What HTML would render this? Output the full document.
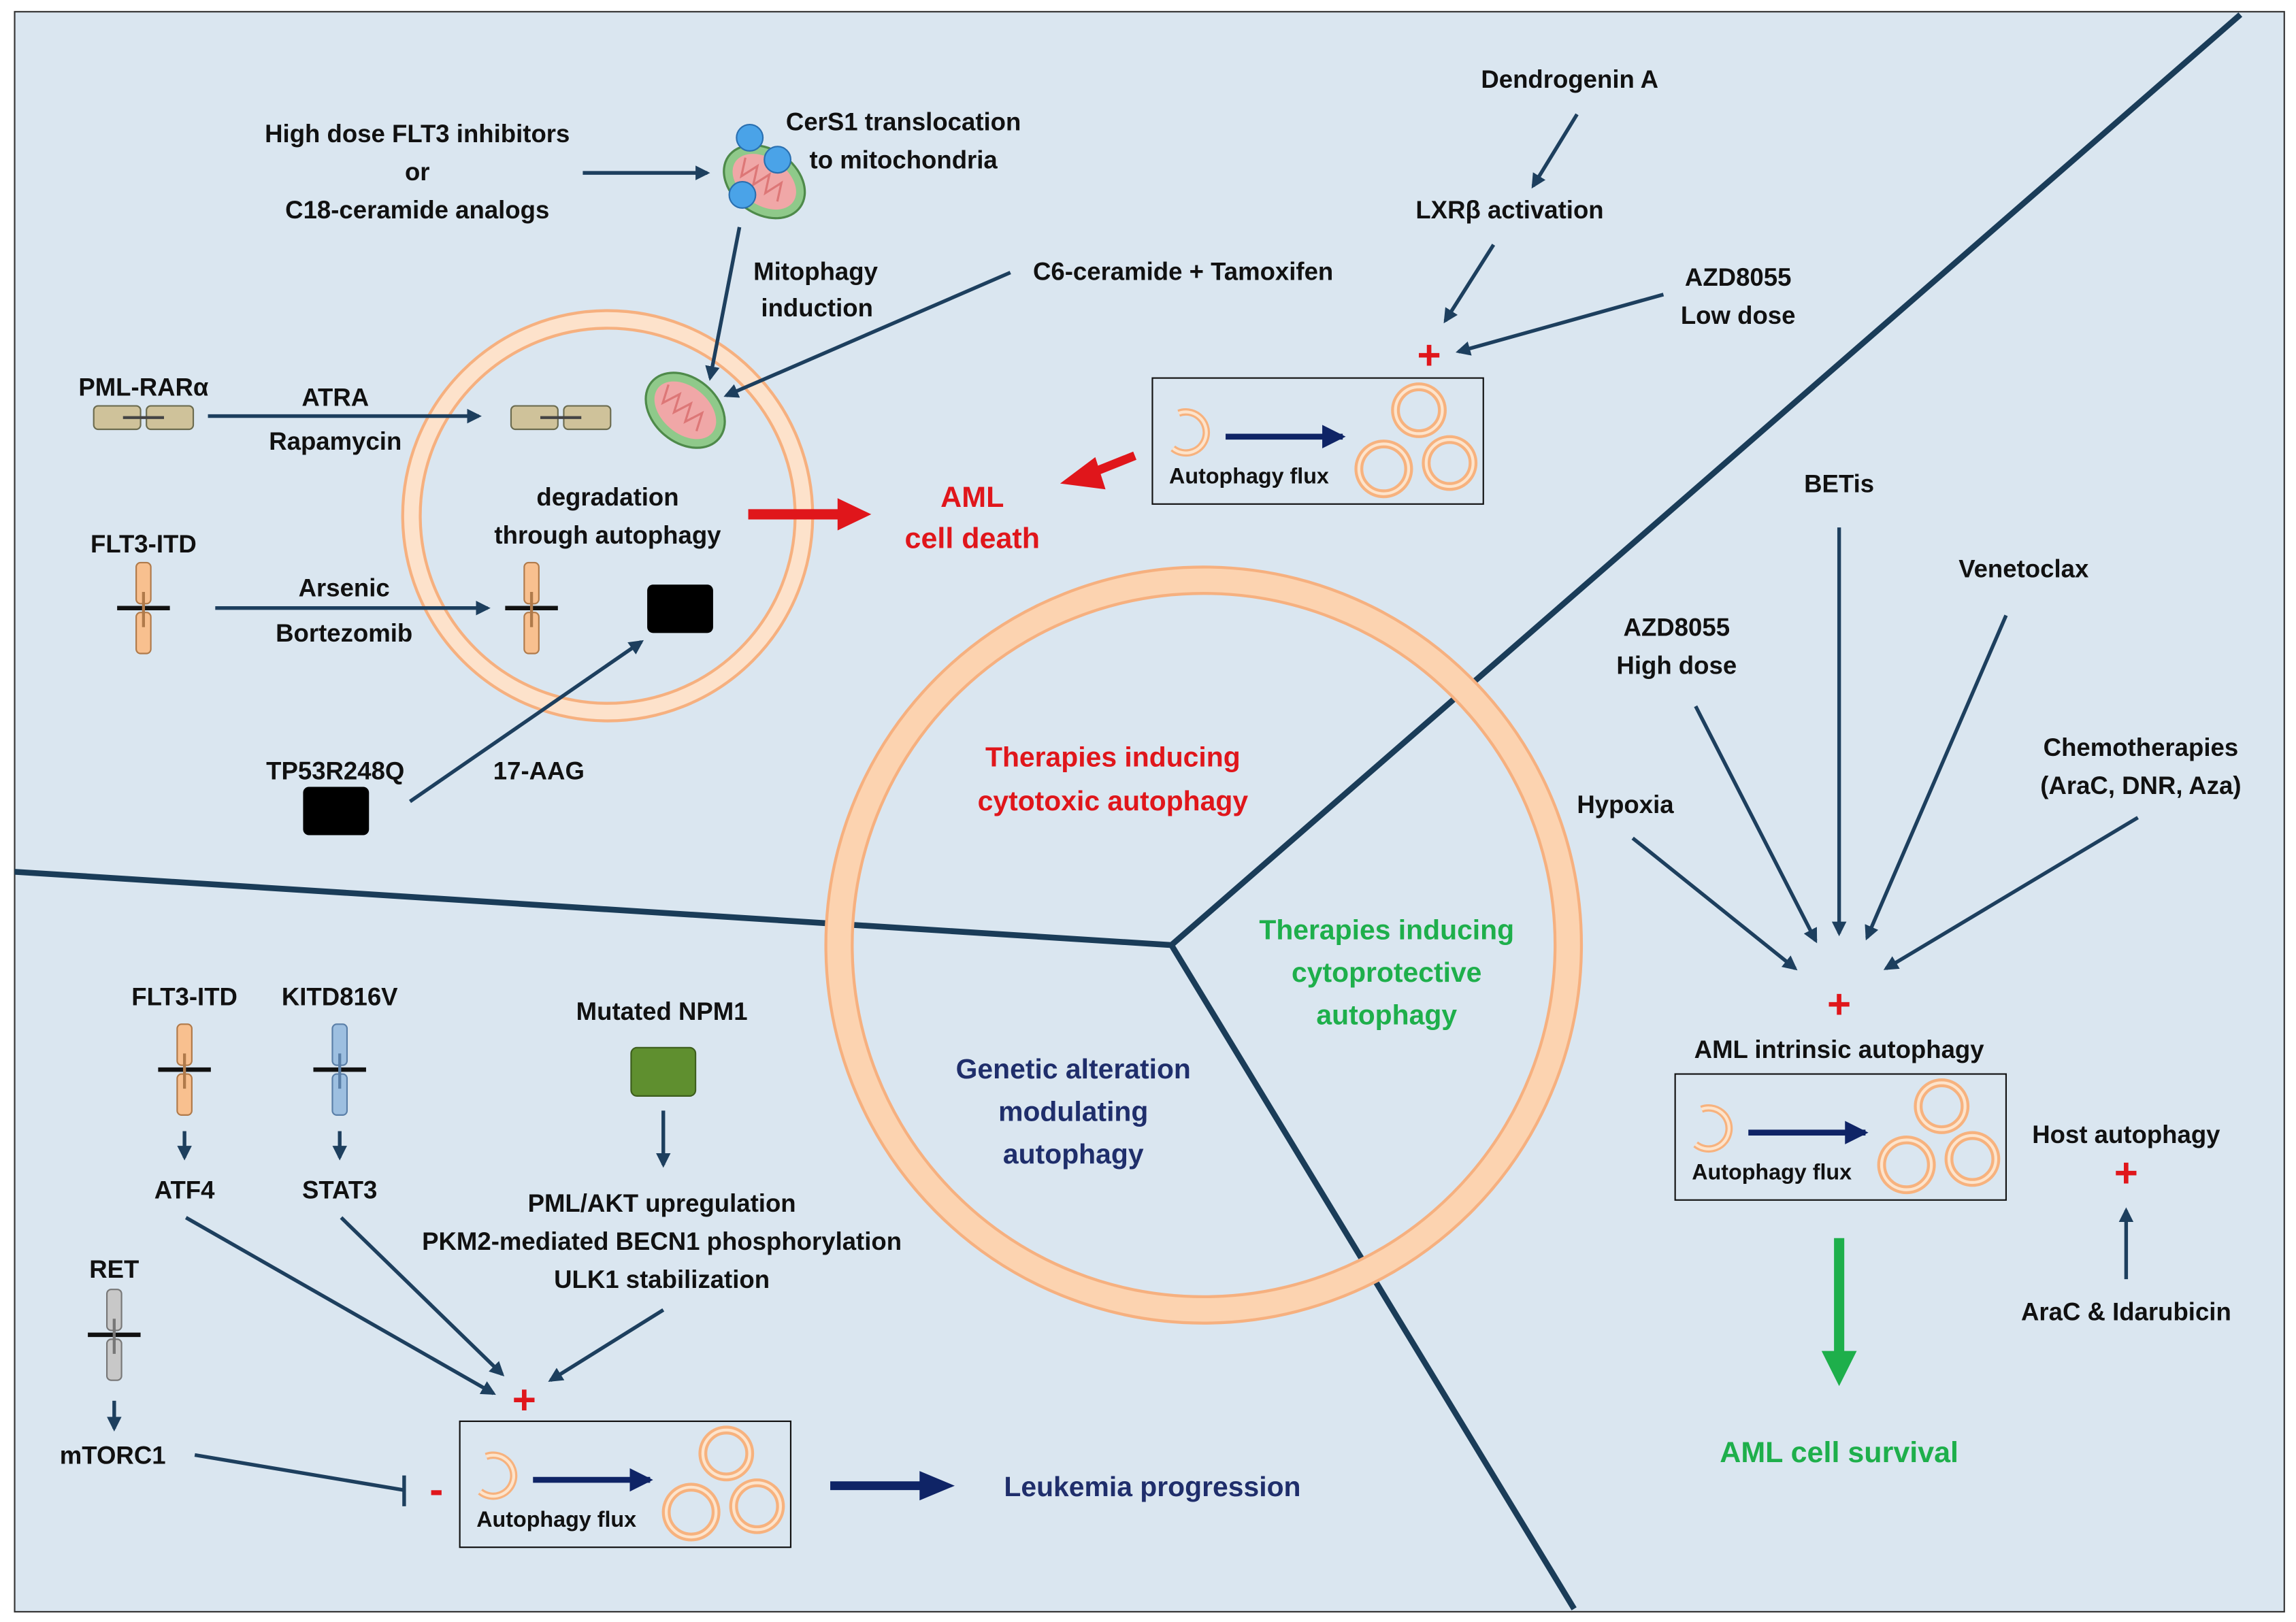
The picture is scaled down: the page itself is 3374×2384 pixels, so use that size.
<!DOCTYPE html>
<html><head><meta charset="utf-8"><style>
html,body{margin:0;padding:0;background:#fff}
svg{display:block}
text{font-family:"Liberation Sans",sans-serif;font-weight:bold;font-size:17px;fill:#111}
.r{fill:#e0161b}.g{fill:#1eaf4b}.b{fill:#1f2e6b}
.s15{font-size:15px}.s19{font-size:19px}.s20{font-size:20px}.s26{font-size:28px}
</style></head><body>
<svg width="3374" height="2384" viewBox="0 0 1568 1107" preserveAspectRatio="none" xmlns="http://www.w3.org/2000/svg">
<defs>
<marker id="a" markerWidth="10" markerHeight="10" refX="8" refY="5" orient="auto" markerUnits="userSpaceOnUse"><path d="M0,0 L10,5 L0,10 z" fill="#1d3f5e"/></marker>
<marker id="ab" markerWidth="16" markerHeight="16" refX="14" refY="8" orient="auto" markerUnits="userSpaceOnUse"><path d="M0,0 L16,8 L0,16 z" fill="#0f2466"/></marker>
<g id="flux">
<path d="M18,24 a14,14 0 1 1 -4,24" fill="none" stroke="#f7b27e" stroke-width="5"/>
<path d="M18,24 a14,14 0 1 1 -4,24" fill="none" stroke="#fde4cc" stroke-width="2"/>
<line x1="50" y1="40" x2="130" y2="40" stroke="#0f2466" stroke-width="4" marker-end="url(#ab)"/>
<g fill="none" stroke="#f7b27e" stroke-width="6"><circle cx="182" cy="22" r="16"/><circle cx="158" cy="62" r="17"/><circle cx="203" cy="58" r="16"/></g>
<g fill="none" stroke="#fde4cc" stroke-width="2"><circle cx="182" cy="22" r="16"/><circle cx="158" cy="62" r="17"/><circle cx="203" cy="58" r="16"/></g>
</g>
<g id="mito">
<ellipse cx="0" cy="0" rx="30" ry="22" fill="#8fc98a" stroke="#4e8a4a" stroke-width="1.5"/>
<ellipse cx="0" cy="0" rx="24" ry="16" fill="#f0a7a7"/>
<path d="M-20,-6 l5,12 l5,-12 l5,12 l5,-12 l5,12 l5,-12 l5,12" fill="none" stroke="#d77" stroke-width="1.5"/>
</g>
<g id="rtk">
<rect x="-5" y="0" width="10" height="28" rx="3" fill="#f8c08f" stroke="#b07a4a"/>
<rect x="-5" y="34" width="10" height="28" rx="3" fill="#f8c08f" stroke="#b07a4a"/>
<line x1="-18" y1="31" x2="18" y2="31" stroke="#111" stroke-width="3"/>
<line x1="0" y1="20" x2="0" y2="44" stroke="#b07a4a" stroke-width="2"/>
</g>
<g id="pml">
<rect x="0" y="0" width="32" height="16" rx="3" fill="#cfc29a" stroke="#6b6b4f"/>
<rect x="36" y="0" width="32" height="16" rx="3" fill="#cfc29a" stroke="#6b6b4f"/>
<line x1="20" y1="8" x2="48" y2="8" stroke="#444" stroke-width="2"/>
</g>
</defs>
<rect x="0" y="0" width="1568" height="1107" fill="#fff"/>
<rect x="10" y="8" width="1550" height="1092" fill="#dae6f0" stroke="#333" stroke-width="1"/>
<g stroke="#1a3c58" stroke-width="4" fill="none">
<line x1="1530" y1="10" x2="800" y2="645"/>
<line x1="10" y1="595" x2="800" y2="645"/>
<line x1="800" y1="645" x2="1075" y2="1098"/>
</g>
<circle cx="822" cy="645" r="249" fill="none" stroke="#f6b07f" stroke-width="20"/>
<circle cx="822" cy="645" r="249" fill="none" stroke="#fcd3b0" stroke-width="16"/>
<circle cx="415" cy="352" r="134" fill="none" stroke="#f6b07f" stroke-width="14"/>
<circle cx="415" cy="352" r="134" fill="none" stroke="#fde2cb" stroke-width="10"/>

<text x="285" y="97" text-anchor="middle">High dose FLT3 inhibitors</text>
<text x="285" y="123" text-anchor="middle">or</text>
<text x="285" y="149" text-anchor="middle">C18-ceramide analogs</text>
<line x1="398" y1="118" x2="483" y2="118" stroke="#1d3f5e" stroke-width="2.5" marker-end="url(#a)"/>
<use href="#mito" transform="translate(522,124) rotate(35)"/>
<circle cx="512" cy="94" r="9" fill="#4aa3e8" stroke="#2a6fb0"/>
<circle cx="531" cy="109" r="9" fill="#4aa3e8" stroke="#2a6fb0"/>
<circle cx="507" cy="133" r="9" fill="#4aa3e8" stroke="#2a6fb0"/>
<text x="617" y="89" text-anchor="middle">CerS1 translocation</text>
<text x="617" y="115" text-anchor="middle">to mitochondria</text>
<line x1="505" y1="155" x2="485" y2="258" stroke="#1d3f5e" stroke-width="2.5" marker-end="url(#a)"/>
<text x="557" y="191" text-anchor="middle">Mitophagy</text>
<text x="558" y="216" text-anchor="middle">induction</text>
<text x="808" y="191" text-anchor="middle">C6-ceramide + Tamoxifen</text>
<line x1="690" y1="186" x2="496" y2="270" stroke="#1d3f5e" stroke-width="2.5" marker-end="url(#a)"/>
<use href="#mito" transform="translate(468,280) rotate(40)"/>
<text x="98" y="270" text-anchor="middle">PML-RARα</text>
<use href="#pml" x="64" y="277"/>
<text x="229" y="277" text-anchor="middle">ATRA</text>
<text x="229" y="307" text-anchor="middle">Rapamycin</text>
<line x1="142" y1="284" x2="327" y2="284" stroke="#1d3f5e" stroke-width="2.5" marker-end="url(#a)"/>
<use href="#pml" x="349" y="277"/>
<text x="415" y="345" text-anchor="middle">degradation</text>
<text x="415" y="371" text-anchor="middle">through autophagy</text>
<text x="98" y="377" text-anchor="middle">FLT3-ITD</text>
<use href="#rtk" x="98" y="384"/>
<text x="235" y="407" text-anchor="middle">Arsenic</text>
<text x="235" y="438" text-anchor="middle">Bortezomib</text>
<line x1="147" y1="415" x2="333" y2="415" stroke="#1d3f5e" stroke-width="2.5" marker-end="url(#a)"/>
<use href="#rtk" x="363" y="384"/>
<rect x="442" y="399" width="45" height="33" rx="4" fill="#000"/>
<rect x="207" y="537" width="45" height="33" rx="4" fill="#000"/>
<text x="229" y="532" text-anchor="middle">TP53R248Q</text>
<text x="368" y="532" text-anchor="middle">17-AAG</text>
<line x1="280" y1="547" x2="438" y2="438" stroke="#1d3f5e" stroke-width="2.5" marker-end="url(#a)"/>
<line x1="511" y1="351" x2="575" y2="351" stroke="#e0161b" stroke-width="7"/>
<path d="M572,340 L595,351 L572,362 z" fill="#e0161b"/>
<text x="664" y="346" text-anchor="middle" class="r s20">AML</text>
<text x="664" y="374" text-anchor="middle" class="r s20">cell death</text>
<line x1="775" y1="311" x2="740" y2="325" stroke="#e0161b" stroke-width="6"/>
<path d="M748,312 L724,330 L755,334 z" fill="#e0161b"/>

<text x="1072" y="60" text-anchor="middle">Dendrogenin  A</text>
<line x1="1077" y1="78" x2="1047" y2="127" stroke="#1d3f5e" stroke-width="2.5" marker-end="url(#a)"/>
<text x="1031" y="149" text-anchor="middle">LXRβ activation</text>
<line x1="1020" y1="167" x2="987" y2="219" stroke="#1d3f5e" stroke-width="2.5" marker-end="url(#a)"/>
<text x="1187" y="195" text-anchor="middle">AZD8055</text>
<text x="1187" y="221" text-anchor="middle">Low dose</text>
<line x1="1136" y1="201" x2="996" y2="240" stroke="#1d3f5e" stroke-width="2.5" marker-end="url(#a)"/>
<text x="976" y="252" text-anchor="middle" class="r s26">+</text>
<rect x="787" y="258" width="226" height="86" fill="#dae6f0" stroke="#111" stroke-width="1"/>
<use href="#flux" x="787" y="258"/>
<text x="853" y="330" text-anchor="middle" class="s15">Autophagy flux</text>

<text x="760" y="523" text-anchor="middle" class="r s19">Therapies inducing</text>
<text x="760" y="553" text-anchor="middle" class="r s19">cytotoxic autophagy</text>
<text x="947" y="641" text-anchor="middle" class="g s19">Therapies inducing</text>
<text x="947" y="670" text-anchor="middle" class="g s19">cytoprotective</text>
<text x="947" y="699" text-anchor="middle" class="g s19">autophagy</text>
<text x="733" y="736" text-anchor="middle" class="b s19">Genetic alteration</text>
<text x="733" y="765" text-anchor="middle" class="b s19">modulating</text>
<text x="733" y="794" text-anchor="middle" class="b s19">autophagy</text>

<text x="1256" y="336" text-anchor="middle">BETis</text>
<text x="1382" y="394" text-anchor="middle">Venetoclax</text>
<text x="1145" y="434" text-anchor="middle">AZD8055</text>
<text x="1145" y="460" text-anchor="middle">High dose</text>
<text x="1462" y="516" text-anchor="middle">Chemotherapies</text>
<text x="1462" y="542" text-anchor="middle">(AraC, DNR, Aza)</text>
<text x="1110" y="555" text-anchor="middle">Hypoxia</text>
<g stroke="#1d3f5e" stroke-width="2.5">
<line x1="1256" y1="360" x2="1256" y2="637" marker-end="url(#a)"/>
<line x1="1370" y1="420" x2="1275" y2="640" marker-end="url(#a)"/>
<line x1="1158" y1="482" x2="1240" y2="642" marker-end="url(#a)"/>
<line x1="1115" y1="572" x2="1226" y2="661" marker-end="url(#a)"/>
<line x1="1460" y1="558" x2="1288" y2="661" marker-end="url(#a)"/>
</g>
<text x="1256" y="695" text-anchor="middle" class="r s26">+</text>
<text x="1256" y="722" text-anchor="middle">AML intrinsic autophagy</text>
<rect x="1144" y="733" width="226" height="86" fill="#dae6f0" stroke="#111" stroke-width="1"/>
<use href="#flux" x="1144" y="733"/>
<text x="1210" y="805" text-anchor="middle" class="s15">Autophagy flux</text>
<text x="1452" y="780" text-anchor="middle">Host autophagy</text>
<text x="1452" y="810" text-anchor="middle" class="r s26">+</text>
<line x1="1452" y1="873" x2="1452" y2="826" stroke="#1d3f5e" stroke-width="2.5" marker-end="url(#a)"/>
<text x="1452" y="901" text-anchor="middle">AraC &amp; Idarubicin</text>
<line x1="1256" y1="845" x2="1256" y2="925" stroke="#1eaf4b" stroke-width="7"/>
<path d="M1244,922 L1256,946 L1268,922 z" fill="#1eaf4b"/>
<text x="1256" y="998" text-anchor="middle" class="g s20">AML cell survival</text>

<text x="126" y="686" text-anchor="middle">FLT3-ITD</text>
<use href="#rtk" x="126" y="699"/>
<text x="232" y="686" text-anchor="middle">KITD816V</text>
<g transform="translate(232,699)">
<rect x="-5" y="0" width="10" height="28" rx="3" fill="#9dbfe0" stroke="#5a7fa8"/>
<rect x="-5" y="34" width="10" height="28" rx="3" fill="#9dbfe0" stroke="#5a7fa8"/>
<line x1="-18" y1="31" x2="18" y2="31" stroke="#111" stroke-width="3"/>
<line x1="0" y1="20" x2="0" y2="44" stroke="#5a7fa8" stroke-width="2"/>
</g>
<g stroke="#1d3f5e" stroke-width="2.5">
<line x1="126" y1="772" x2="126" y2="790" marker-end="url(#a)"/>
<line x1="232" y1="772" x2="232" y2="790" marker-end="url(#a)"/>
<line x1="78" y1="956" x2="78" y2="975" marker-end="url(#a)"/>
<line x1="453" y1="758" x2="453" y2="795" marker-end="url(#a)"/>
<line x1="127" y1="831" x2="337" y2="951" marker-end="url(#a)"/>
<line x1="233" y1="831" x2="343" y2="938" marker-end="url(#a)"/>
<line x1="453" y1="894" x2="376" y2="942" marker-end="url(#a)"/>
<line x1="133" y1="993" x2="276" y2="1017"/>
<line x1="276" y1="1007" x2="276" y2="1028"/>
</g>
<text x="126" y="818" text-anchor="middle">ATF4</text>
<text x="232" y="818" text-anchor="middle">STAT3</text>
<text x="452" y="696" text-anchor="middle">Mutated NPM1</text>
<rect x="431" y="715" width="44" height="33" rx="4" fill="#5f8f2f" stroke="#3d5e1d"/>
<text x="452" y="827" text-anchor="middle">PML/AKT upregulation</text>
<text x="452" y="853" text-anchor="middle">PKM2-mediated BECN1 phosphorylation</text>
<text x="452" y="879" text-anchor="middle">ULK1 stabilization</text>
<text x="78" y="872" text-anchor="middle">RET</text>
<g transform="translate(78,880)">
<rect x="-5" y="0" width="10" height="28" rx="3" fill="#c8c8c8" stroke="#777"/>
<rect x="-5" y="34" width="10" height="28" rx="3" fill="#c8c8c8" stroke="#777"/>
<line x1="-18" y1="31" x2="18" y2="31" stroke="#111" stroke-width="3"/>
<line x1="0" y1="20" x2="0" y2="44" stroke="#777" stroke-width="2"/>
</g>
<text x="77" y="999" text-anchor="middle">mTORC1</text>
<text x="358" y="965" text-anchor="middle" class="r s26">+</text>
<text x="298" y="1026" text-anchor="middle" class="r s26">-</text>
<rect x="314" y="970" width="226" height="86" fill="#dae6f0" stroke="#111" stroke-width="1"/>
<use href="#flux" x="314" y="970"/>
<text x="380" y="1042" text-anchor="middle" class="s15">Autophagy flux</text>
<line x1="567" y1="1014" x2="632" y2="1014" stroke="#0f2466" stroke-width="6"/>
<path d="M628,1004 L652,1014 L628,1024 z" fill="#0f2466"/>
<text x="787" y="1021" text-anchor="middle" class="b s19">Leukemia progression</text>
</svg>
</body></html>
